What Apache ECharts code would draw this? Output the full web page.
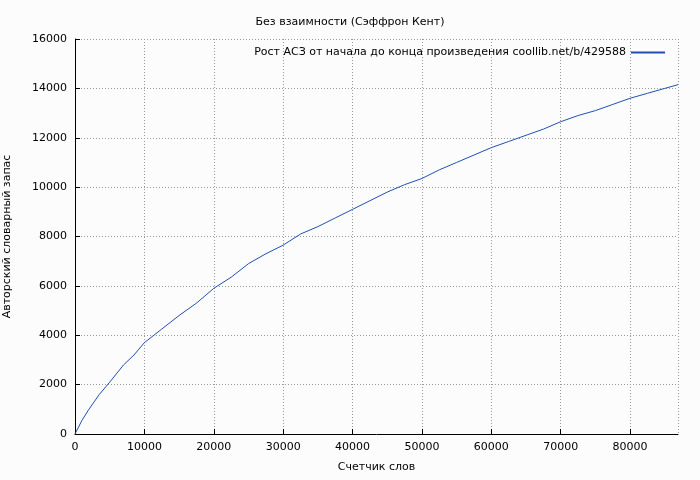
<!DOCTYPE html><html><head><meta charset="utf-8">
<script src="https://cdn.jsdelivr.net/npm/echarts@6/dist/echarts.min.js"></script>
<style>body{margin:0;background:#fcfcfc}#c{width:700px;height:480px}</style></head><body><div id="c"></div><script>
const words=[0,1000,2000,3500,5000,7000,8500,10000,12500,15000,17500,20000,22500,25000,27500,30000,32500,35000,37500,40000,42500,45000,47500,50000,52500,55000,57500,60000,62500,65000,67500,70000,72500,75000,77500,80000,82500,85000,86900];
const vocab=[0,550,1000,1600,2100,2800,3200,3700,4250,4800,5300,5900,6350,6900,7300,7650,8100,8400,8750,9100,9450,9800,10100,10350,10700,11000,11300,11600,11850,12100,12350,12650,12900,13100,13350,13600,13800,14000,14150];
const c=echarts.init(document.getElementById('c'));
const f='DejaVu Sans';
c.setOption({backgroundColor:'#fcfcfc',textStyle:{fontFamily:f},
title:{text:'Без взаимности (Сэффрон Кент)',left:'center',top:12,textStyle:{fontSize:11,fontWeight:'normal',color:'#000',fontFamily:f}},
legend:{top:42,right:30,align:'right',itemWidth:34,itemHeight:2,icon:'rect',textStyle:{fontSize:11,color:'#000',fontFamily:f},data:['Рост АСЗ от начала до конца произведения coollib.net/b/429588']},
grid:{left:75,right:22,top:39,bottom:46,outerBoundsMode:'none',containLabel:false},
xAxis:{type:'value',min:0,max:86900,interval:10000,name:'Счетчик слов',nameLocation:'middle',nameGap:28,nameTextStyle:{fontSize:11,color:'#000'},
axisLine:{lineStyle:{color:'#000'}},axisTick:{inside:true,lineStyle:{color:'#000'}},axisLabel:{fontSize:11,color:'#000',showMaxLabel:false,formatter:v=>String(v)},
splitLine:{show:true,lineStyle:{color:'#999',type:[1,2]}}},
yAxis:{type:'value',min:0,max:16000,interval:2000,name:'Авторский словарный запас',nameLocation:'middle',nameGap:62,nameTextStyle:{fontSize:11,color:'#000'},
axisLine:{show:true,lineStyle:{color:'#000'}},axisTick:{inside:true,lineStyle:{color:'#000'}},axisLabel:{fontSize:11,color:'#000',formatter:v=>String(v)},
splitLine:{show:true,lineStyle:{color:'#999',type:[1,2]}}},
series:[{name:'Рост АСЗ от начала до конца произведения coollib.net/b/429588',type:'line',showSymbol:false,
data:words.map((w,i)=>[w,vocab[i]]),lineStyle:{color:'#1f4fb4',width:1},itemStyle:{color:'#1f4fb4'}}]
});
</script></body></html>
